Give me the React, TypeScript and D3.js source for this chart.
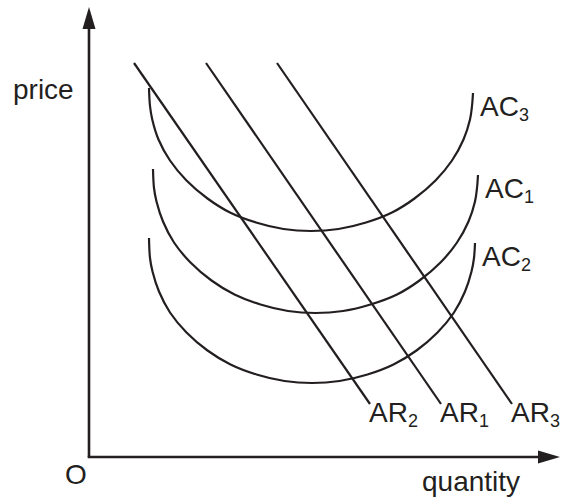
import React from "react";
import * as d3 from "d3";

// Data in abstract units (quantity, price); origin at O.
const axisMax = { quantity: 94.2, price: 90 };

const arNames = ["AR2", "AR1", "AR3"];
const arStarts: [number, number][] = [
  [9.0, 78.8],
  [23.4, 78.8],
  [37.6, 78.8],
];
const arEnds: [number, number][] = [
  [56.2, 10.6],
  [70.4, 10.6],
  [84.6, 10.6],
];

const acNames = ["AC3", "AC1", "AC2"];
const ac3: [number, number][] = [
  [12.0, 73.8], [12.2, 70.2], [12.65, 67.5], [13.9, 63.5], [16.2, 59.3],
  [19.5, 55.3], [23.7, 51.7], [28.2, 48.9], [33.4, 46.9], [38.9, 45.6],
  [44.4, 45.2], [49.9, 45.6], [55.4, 46.9], [60.6, 48.9], [65.1, 51.7],
  [69.3, 55.3], [72.6, 59.3], [74.9, 63.5], [76.2, 67.5], [76.6, 70.2],
  [76.8, 72.8],
];
const ac1: [number, number][] = [
  [12.8, 57.6], [13.0, 53.8], [13.5, 51.1], [14.8, 47.1], [17.0, 42.9],
  [20.3, 38.9], [24.5, 35.3], [29.1, 32.5], [34.3, 30.5], [39.8, 29.2],
  [45.3, 28.8], [50.8, 29.2], [56.3, 30.5], [61.6, 32.5], [66.1, 35.3],
  [70.3, 38.9], [73.6, 42.9], [75.9, 47.1], [77.2, 51.1], [77.6, 53.8],
  [77.8, 56.4],
];
const ac2: [number, number][] = [
  [12.0, 43.8], [12.2, 39.8], [12.7, 37.1], [14.0, 33.1], [16.2, 28.9],
  [19.5, 24.9], [23.7, 21.3], [28.3, 18.5], [33.5, 16.5], [39.1, 15.2],
  [44.6, 14.8], [50.1, 15.2], [55.7, 16.5], [60.9, 18.5], [65.5, 21.3],
  [69.7, 24.9], [73.0, 28.9], [75.2, 33.1], [76.5, 37.1], [77.0, 39.8],
  [77.2, 42.8],
];
const acCurves = [ac3, ac1, ac2];

const axisLabels = { x: "quantity", y: "price", origin: "O" };

const W = 561;
const H = 502;
const INK = "#231f20";
const FONT = "'Liberation Sans', Arial, Helvetica, sans-serif";

function Label({ x, y, name }: { x: number; y: number; name: string }) {
  const main = name.slice(0, -1);
  const sub = name.slice(-1);
  return (
    <text x={x} y={y} fontSize={28} fontFamily={FONT} fill={INK}>
      {main}
      <tspan fontSize={18} dy={5}>{sub}</tspan>
    </text>
  );
}

export default function App() {
  const x = d3.scaleLinear().domain([0, axisMax.quantity]).range([89, 89 + axisMax.quantity * 5]);
  const y = d3.scaleLinear().domain([0, axisMax.price]).range([457, 457 - axisMax.price * 5]);

  const curve = d3
    .line<[number, number]>()
    .x((d) => x(d[0]))
    .y((d) => y(d[1]))
    .curve(d3.curveCatmullRom.alpha(0.5));

  const x0 = x(0);
  const y0 = y(0);
  const xTip = x(axisMax.quantity);
  const yTip = y(axisMax.price);
  const ah = 22; // arrow length
  const aw = 6.5; // arrow half width

  return (
    <svg
      width={W}
      height={H}
      viewBox={`0 0 ${W} ${H}`}
      style={{ position: "absolute", left: 0, top: 0, background: "#fff" }}
    >
      {/* axes */}
      <line x1={x0} y1={y0} x2={x0} y2={yTip + ah - 2} stroke={INK} strokeWidth={2.6} />
      <line x1={x0 - 1.3} y1={y0} x2={xTip - ah + 2} y2={y0} stroke={INK} strokeWidth={2.6} />
      <path d={`M${x0},${yTip} L${x0 - aw},${yTip + ah} L${x0 + aw},${yTip + ah} Z`} fill={INK} />
      <path d={`M${xTip},${y0} L${xTip - ah},${y0 - aw} L${xTip - ah},${y0 + aw} Z`} fill={INK} />

      {/* AR lines */}
      {arStarts.map((s, i) => (
        <line
          key={arNames[i]}
          x1={x(s[0])}
          y1={y(s[1])}
          x2={x(arEnds[i][0])}
          y2={y(arEnds[i][1])}
          stroke={INK}
          strokeWidth={2.2}
        />
      ))}

      {/* AC curves */}
      {acCurves.map((pts, i) => (
        <path key={acNames[i]} d={curve(pts) || ""} fill="none" stroke={INK} strokeWidth={2.2} />
      ))}

      {/* labels */}
      {arEnds.map((e, i) => (
        <Label key={arNames[i]} x={x(e[0]) - 1} y={y(e[1]) + 18} name={arNames[i]} />
      ))}
      {acCurves.map((pts, i) => {
        const last = pts[pts.length - 1];
        return <Label key={acNames[i]} x={x(last[0]) + 7} y={y(last[1]) + 22.7} name={acNames[i]} />;
      })}

      <text x={13} y={99} fontSize={28} fontFamily={FONT} fill={INK}>
        {axisLabels.y}
      </text>
      <text x={65} y={484} fontSize={28} fontFamily={FONT} fill={INK}>
        {axisLabels.origin}
      </text>
      <text x={422} y={491} fontSize={28} fontFamily={FONT} fill={INK}>
        {axisLabels.x}
      </text>
    </svg>
  );
}
